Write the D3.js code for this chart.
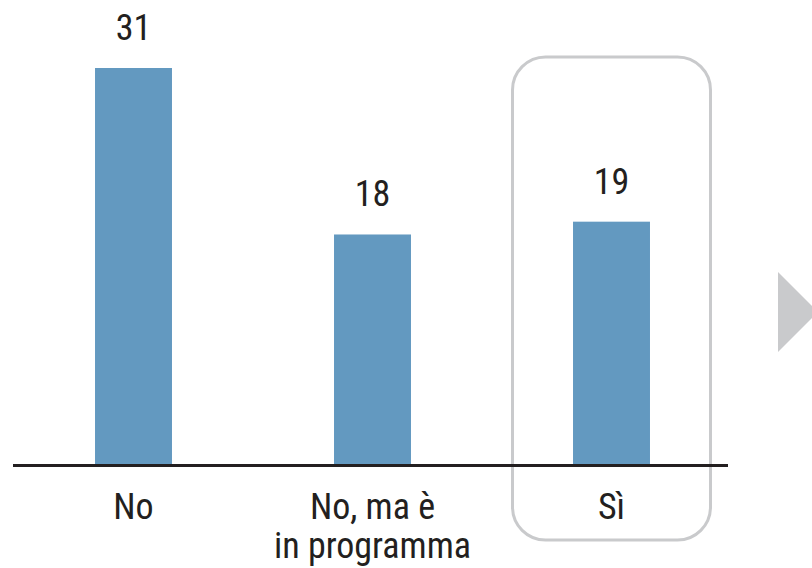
<!DOCTYPE html>
<html>
<head>
<meta charset="utf-8">
<script src="https://cdn.jsdelivr.net/npm/d3@7/dist/d3.min.js"></script>
<style>
  html, body { margin: 0; padding: 0; background: #fff; }
  svg { display: block; }
  text { font-family: "Liberation Sans Narrow", "Arial Narrow", "Roboto Condensed", "Liberation Sans", sans-serif; fill: #231f20; }
</style>
</head>
<body>
<svg id="chart" width="812" height="568"></svg>
<script>
const categories = ["No", "No, ma è\nin programma", "Sì"];
const values = [31, 18, 19];
const highlighted = "Sì";

const svg = d3.select("#chart");
const baseY = 465;

const x = d3.scaleBand()
  .domain(categories)
  .range([14, 731])
  .paddingInner(0.678)
  .paddingOuter(0.339);

const y = d3.scaleLinear()
  .domain([0, 31])
  .range([baseY, 68]);

// highlight rounded box
const hc = x(highlighted) + x.bandwidth() / 2;
svg.append("rect")
  .attr("x", hc - 99)
  .attr("y", 57)
  .attr("width", 198)
  .attr("height", 483)
  .attr("rx", 33)
  .attr("ry", 33)
  .attr("fill", "none")
  .attr("stroke", "#c9cacc")
  .attr("stroke-width", 3);

// bars
svg.selectAll("rect.bar")
  .data(categories)
  .join("rect")
  .attr("class", "bar")
  .attr("x", d => x(d))
  .attr("y", (d, i) => y(values[i]))
  .attr("width", x.bandwidth())
  .attr("height", (d, i) => baseY - y(values[i]))
  .attr("fill", "#6399c0");

// value labels
svg.selectAll("text.val")
  .data(categories)
  .join("text")
  .attr("class", "val")
  .attr("x", d => x(d) + x.bandwidth() / 2)
  .attr("y", (d, i) => y(values[i]) - 28)
  .attr("text-anchor", "middle")
  .attr("font-size", 36)
  .text((d, i) => values[i]);

// baseline
svg.append("line")
  .attr("x1", 13).attr("x2", 728)
  .attr("y1", baseY + 0.5).attr("y2", baseY + 0.5)
  .attr("stroke", "#231f20")
  .attr("stroke-width", 3);

// category labels
const lab = svg.selectAll("text.cat")
  .data(categories)
  .join("text")
  .attr("class", "cat")
  .attr("x", d => x(d) + x.bandwidth() / 2)
  .attr("y", 519)
  .attr("text-anchor", "middle")
  .attr("font-size", 36);
lab.each(function(d) {
  const t = d3.select(this);
  d.split("\n").forEach((line, i) => {
    t.append("tspan")
      .attr("x", x(d) + x.bandwidth() / 2)
      .attr("dy", i === 0 ? 0 : 39)
      .text(line);
  });
});

// grey arrow at right
svg.append("path")
  .attr("d", d3.line()([[778, 272], [818, 312], [778, 352]]) + "Z")
  .attr("fill", "#c9cacc");
</script>
</body>
</html>
